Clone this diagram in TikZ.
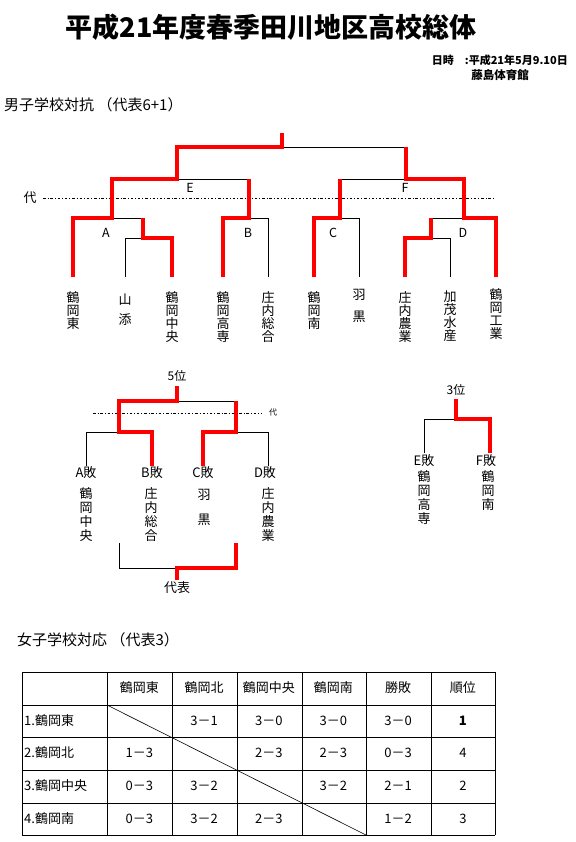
\documentclass[tikz,border=0pt]{standalone}
\usepackage{fontspec}
\setmainfont{Noto Sans CJK JP}
\usepackage{tikz}
\usepackage{xcolor}
\usetikzlibrary{positioning}
\definecolor{winred}{HTML}{FF0000}

\begin{document}
\begin{tikzpicture}[x=1pt, y=-1pt,
  bLine/.style ={black, line width=0.8pt},
  wLine/.style ={winred, line width=4.5pt, line join=miter},
  dLine/.style ={black, line width=0.6pt, dash pattern=on 2.5pt off 2pt on 0.8pt off 2pt},
  tName/.style ={font=\fontsize{13}{13}\selectfont, align=center, anchor=north, inner sep=0pt},
  tLabel/.style={font=\fontsize{12.5}{12.5}\selectfont, inner sep=0pt},
  tCell/.style ={font=\fontsize{13}{13}\selectfont, inner sep=0pt},
]
\useasboundingbox (0,0) rectangle (575,842);

% header
\node[font=\fontsize{27}{27}\selectfont\bfseries, inner sep=0pt] (title) at (271,27) {平成21年度春季田川地区高校総体};
\node[font=\fontsize{11}{11}\selectfont\bfseries, anchor=east, inner sep=0pt] (date) at (568,60) {日時　:平成21年5月9.10日};
\node[font=\fontsize{11.5}{11.5}\selectfont\bfseries, inner sep=0pt] (place) at (500,75) {藤島体育館};
\node[font=\fontsize{15}{15}\selectfont, anchor=west, inner sep=0pt] (boys) at (4,105) {男子学校対抗 （代表6+1）};

% boys bracket: black lines
\draw[bLine] (177,147) -- (406,147);
\draw[bLine] (112,179) -- (249,179);
\draw[bLine] (340,179) -- (464,179);
\draw[bLine] (73,218) -- (143,218);
\draw[bLine] (125,277) -- (125,238) -- (172,238);
\draw[bLine] (223,218) -- (268,218) -- (268,277);
\draw[bLine] (314,218) -- (359,218) -- (359,277);
\draw[bLine] (431,218) -- (496,218);
\draw[bLine] (405,238) -- (450,238) -- (450,277);
\draw[dLine] (43,198) -- (493,198);
\node[font=\fontsize{13}{13}\selectfont, inner sep=0pt] (dai) at (30,198) {代};

% boys bracket: winners
\draw[wLine] (73,277) -- (73,218) -- (112,218) -- (112,179) -- (177,179) -- (177,147) -- (282,147) -- (282,133);
\draw[wLine] (172,277) -- (172,238) -- (143,238) -- (143,218);
\draw[wLine] (223,277) -- (223,218) -- (249,218) -- (249,179);
\draw[wLine] (314,277) -- (314,218) -- (340,218) -- (340,179);
\draw[wLine] (405,277) -- (405,238) -- (431,238) -- (431,218);
\draw[wLine] (496,277) -- (496,218) -- (464,218) -- (464,179) -- (406,179) -- (406,147);

\node[tLabel] (lE) at (190,188) {E};
\node[tLabel] (lF) at (405,188) {F};
\node[tLabel] (lA) at (106,233) {A};
\node[tLabel] (lB) at (248,233) {B};
\node[tLabel] (lC) at (333,233) {C};
\node[tLabel] (lD) at (463,233) {D};

\node[tName] (bHigashi) at (73,291) {鶴\\岡\\東};
\node[tName] (bYamazoe) at (125,294) {山\\[7pt]添};
\node[tName] (bChuo)    at (172,291) {鶴\\岡\\中\\央};
\node[tName] (bKosen)   at (223,291) {鶴\\岡\\高\\専};
\node[tName] (bSogo)    at (268,291) {庄\\内\\総\\合};
\node[tName] (bMinami)  at (314,291) {鶴\\岡\\南};
\node[tName] (bHaguro)  at (359,289) {羽\\[9pt]黒};
\node[tName] (bNogyo)   at (405,291) {庄\\内\\農\\業};
\node[tName] (bKamo)    at (450,291) {加\\茂\\水\\産};
\node[tName] (bKogyo)   at (496,288) {鶴\\岡\\工\\業};

% 5th place
\node[font=\fontsize{12}{12}\selectfont, inner sep=0pt] (fifth) at (177,376) {5位};
\draw[bLine] (119,401) -- (236,401);
\draw[bLine] (86,466) -- (86,432) -- (152,432);
\draw[bLine] (203,432) -- (268,432) -- (268,466);
\draw[dLine] (93,413) -- (262,413);
\node[font=\fontsize{8}{8}\selectfont, inner sep=0pt] (dai5) at (273,413) {代};
\draw[wLine] (152,466) -- (152,432) -- (119,432) -- (119,401) -- (177,401) -- (177,386);
\draw[wLine] (203,466) -- (203,432) -- (236,432) -- (236,401);
\node[tCell] (lAl) at (86,473) {A敗};
\node[tCell] (lBl) at (152,473) {B敗};
\node[tCell] (lCl) at (203,473) {C敗};
\node[tCell] (lDl) at (265,473) {D敗};
\node[tName, font=\fontsize{13}{14}\selectfont] (fChuo)   at (86,487)  {鶴\\岡\\中\\央};
\node[tName, font=\fontsize{13}{14}\selectfont] (fSogo)   at (151,487) {庄\\内\\総\\合};
\node[tName, font=\fontsize{13}{14}\selectfont] (fHaguro) at (204,489) {羽\\[11pt]黒};
\node[tName, font=\fontsize{13}{14}\selectfont] (fNogyo)  at (268,487) {庄\\内\\農\\業};
\draw[bLine] (119,543) -- (119,568) -- (177,568);
\draw[wLine] (236,543) -- (236,568) -- (177,568) -- (177,580);
\node[tCell] (rep) at (177,588) {代表};

% 3rd place
\node[font=\fontsize{12}{12}\selectfont, inner sep=0pt] (third) at (456,390) {3位};
\draw[bLine] (456,419) -- (424,419) -- (424,453);
\draw[wLine] (456,399) -- (456,419) -- (490,419) -- (490,453);
\node[tCell] (lEl) at (424,461) {E敗};
\node[tCell] (lFl) at (486,461) {F敗};
\node[tName, font=\fontsize{13}{14}\selectfont] (tKosen)  at (424,470) {鶴\\岡\\高\\専};
\node[tName, font=\fontsize{13}{14}\selectfont] (tMinami) at (488,470) {鶴\\岡\\南};

% girls league table
\node[font=\fontsize{15}{15}\selectfont, anchor=west, inner sep=0pt] (girls) at (17,640) {女子学校対応 （代表3）};
\foreach \x in {22,107,172,237,302,366,431,495}
  \draw[bLine, line width=1pt] (\x,672) -- (\x,835);
\foreach \y in {672,705,737,770,803,835}
  \draw[bLine, line width=1pt] (22,\y) -- (495,\y);
\draw[bLine, line width=0.6pt] (107,705) -- (366,835);
\foreach \t [count=\i] in {鶴岡東,鶴岡北,鶴岡中央,鶴岡南,勝敗,順位}
  \node[tCell] (h\i) at ({107+64.7*(\i-0.5)},688) {\t};
\foreach \y/\n/\vals [count=\j] in {
    721/1.鶴岡東/{{},3－1,3－0,3－0,3－0,\textbf{1}},
    753/2.鶴岡北/{1－3,{},2－3,2－3,0－3,4},
    786/3.鶴岡中央/{0－3,3－2,{},3－2,2－1,2},
    819/4.鶴岡南/{0－3,3－2,2－3,{},1－2,3}} {
  \node[tCell, anchor=west] (r\j) at (24,\y) {\n};
  \foreach \v [count=\i] in \vals
    \node[tCell] (c\j-\i) at ({107+64.7*(\i-0.5)},\y) {\v};
}
\end{tikzpicture}
\end{document}
